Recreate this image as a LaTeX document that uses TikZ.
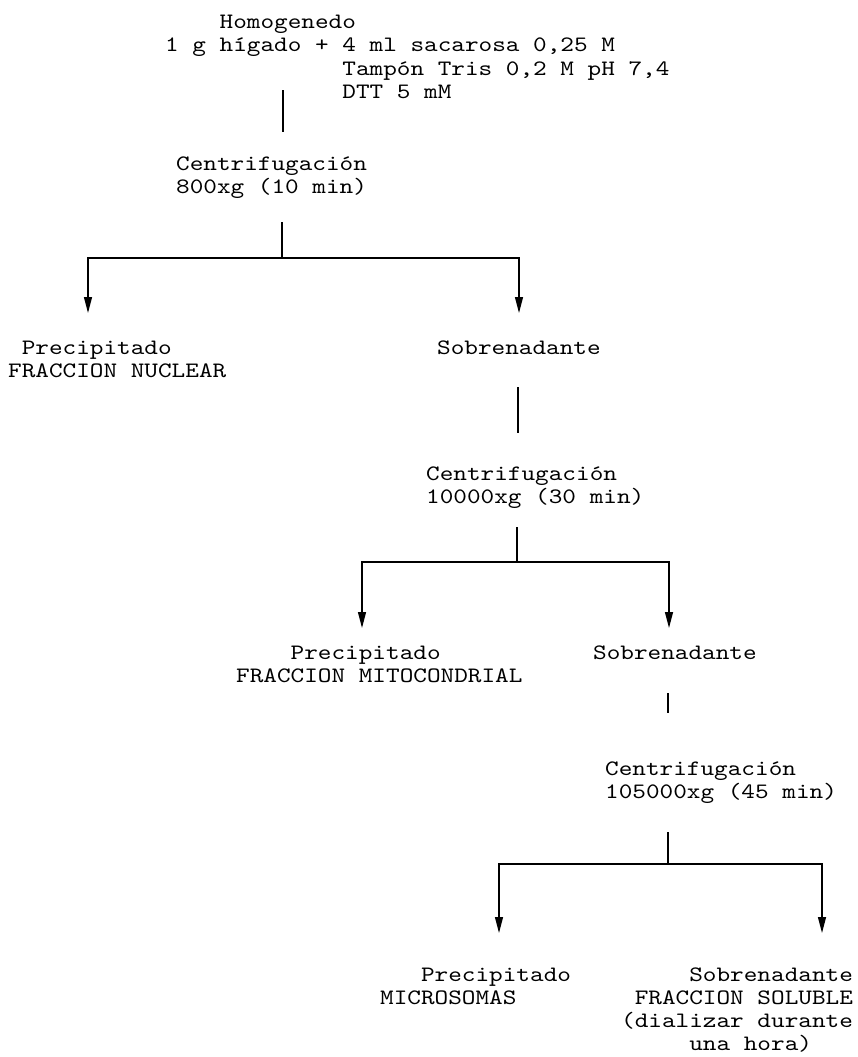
\documentclass[tikz,border=0pt]{standalone}
\usepackage{fontspec}
\newfontfamily\tyfont{lmmono10-regular.otf}[FakeStretch=1.18]
\usetikzlibrary{arrows.meta}
\newcommand{\tsz}{\tyfont\fontsize{22}{23}\selectfont}
\begin{document}
\begin{tikzpicture}[x=1pt,y=-1pt,
  txt/.style={inner sep=0pt, anchor=base west, font=\tsz},
  link/.style={line width=1.3pt},
  arr/.style={line width=1.3pt, -{Triangle[length=16pt,width=8pt]}}]
\useasboundingbox (0,0) rectangle (857,1057);
% block A
\node[txt] (hA1) at (165,29) {~~~~Homogenedo};
\node[txt] (hA2) at (165,52) {1 g hígado + 4 ml sacarosa 0,25 M};
\node[txt] (hA3) at (165,75) {~~~~~~~~~~~~~Tampón Tris 0,2 M pH 7,4};
\node[txt] (hA4) at (165,98) {~~~~~~~~~~~~~DTT 5 mM};
% block B
\node[txt] (c1a) at (176,170) {Centrifugación};
\node[txt] (c1b) at (176,193) {800xg (10 min)};
% branch 1 results
\node[txt] (p1a) at (8,354) {~Precipitado};
\node[txt] (p1b) at (8,377) {FRACCION NUCLEAR};
\node[txt] (s1) at (437,354) {Sobrenadante};
% block E
\node[txt] (c2a) at (426,480) {Centrifugación};
\node[txt] (c2b) at (426,503) {10000xg (30 min)};
\node[txt] (p2a) at (236,659) {~~~~Precipitado};
\node[txt] (p2b) at (236,682) {FRACCION MITOCONDRIAL};
\node[txt] (s2) at (593,659) {Sobrenadante};
% block H
\node[txt] (c3a) at (605,775) {Centrifugación};
\node[txt] (c3b) at (605,798) {105000xg (45 min)};
\node[txt] (p3a) at (380,981) {~~~Precipitado};
\node[txt] (p3b) at (380,1004) {MICROSOMAS};
\node[txt] (s3a) at (621,981) {~~~~~Sobrenadante};
\node[txt] (s3b) at (621,1004) {~FRACCION SOLUBLE};
\node[txt] (s3c) at (621,1027) {(dializar durante};
\node[txt] (s3d) at (621,1050) {~~~~~una hora)};
% connectors
\coordinate (v1a) at (283,90);  \coordinate (v1b) at (283,132);
\draw[link] (v1a) -- (v1b);
\coordinate (b1) at (282,222); \coordinate (j1) at (282,258);
\coordinate (l1) at (88,258);  \coordinate (r1) at (519,258);
\coordinate (l1e) at (88,313); \coordinate (r1e) at (519,313);
\draw[link] (b1) -- (j1);
\draw[arr] (j1) -- (l1) -- (l1e);
\draw[arr] (j1) -- (r1) -- (r1e);
\coordinate (v3a) at (518,387); \coordinate (v3b) at (518,433);
\draw[link] (v3a) -- (v3b);
\coordinate (b2) at (517,527); \coordinate (j2) at (517,562);
\coordinate (l2) at (362,562);  \coordinate (r2) at (669,562);
\coordinate (l2e) at (362,628); \coordinate (r2e) at (669,628);
\draw[link] (b2) -- (j2);
\draw[arr] (j2) -- (l2) -- (l2e);
\draw[arr] (j2) -- (r2) -- (r2e);
\coordinate (v5a) at (668,693); \coordinate (v5b) at (668,713);
\draw[link] (v5a) -- (v5b);
\coordinate (b3) at (668,832); \coordinate (j3) at (668,864);
\coordinate (l3) at (499,864);  \coordinate (r3) at (822,864);
\coordinate (l3e) at (499,933); \coordinate (r3e) at (822,933);
\draw[link] (b3) -- (j3);
\draw[arr] (j3) -- (l3) -- (l3e);
\draw[arr] (j3) -- (r3) -- (r3e);
\end{tikzpicture}
\end{document}
